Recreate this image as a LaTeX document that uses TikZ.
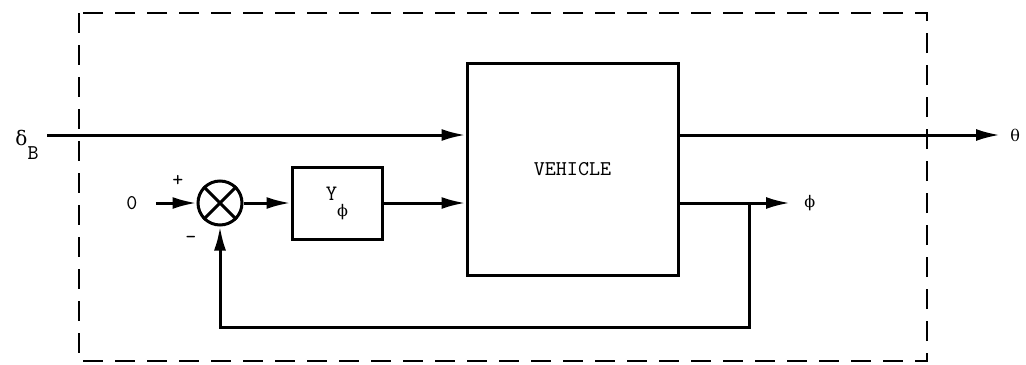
\documentclass[tikz,border=0pt]{standalone}
\usepackage{fontspec}
\newfontfamily\grk{DejaVu Serif}
\usetikzlibrary{arrows.meta,positioning,calc}
\tikzset{
  blk/.style={draw, line width=1.5pt, inner sep=0pt, font=\ttfamily\fontsize{10.5}{12}\selectfont},
  sumj/.style={draw, circle, line width=1.5pt, minimum size=22pt, inner sep=0pt},
  sig/.style={line width=1.5pt, -{Latex[length=12pt,width=6pt]}},
  frm/.style={line width=1.2pt, dash pattern=on 10pt off 6pt},
  lbl/.style={font=\ttfamily\fontsize{10.5}{12}\selectfont, inner sep=1pt},
}
\begin{document}
\begin{tikzpicture}[x=0.5pt,y=-0.5pt]
\useasboundingbox (0,0) rectangle (1026,364);
\draw[frm] (79,13) rectangle (927,361);
% blocks
\node[blk, minimum width=105.5pt, minimum height=106pt] (veh) at (572.5,169) {VEHICLE};
\node[blk, minimum width=45pt, minimum height=36pt, font=\ttfamily\fontsize{11}{12}\selectfont] (yb) at (337,203) {Y\raisebox{-8pt}{\grk\fontsize{8}{10}\selectfont ϕ}};
\node[sumj] (sj) at (220,203) {};
\draw[line width=1.5pt] (sj.north east) -- (sj.south west) (sj.north west) -- (sj.south east);
\node[lbl] (zero) at (132,203) {0};
\node[lbl] (plus) at (178,181) {+};
\node[lbl] (minus) at (191,240) {-};
\node[lbl] (dlab) at (27,145) {{\grk\fontsize{10}{12}\selectfont δ}\raisebox{-7pt}{B}};
% signals
\coordinate (din) at (47,135);
\coordinate (tout) at (1000,135);
\coordinate (pout) at (790,203);
\coordinate (br) at (749,203);
\coordinate (fb) at (749,327);
\node[lbl, font=\grk\fontsize{8}{10}\selectfont, right=4pt of tout] (tlab) {θ};
\node[lbl, font=\grk\fontsize{8}{10}\selectfont, right=6pt of pout] (plab) {ϕ};
\draw[sig] (din) -- (din -| veh.west);
\draw[sig] (tout -| veh.east) -- (tout);
\draw[sig] ([xshift=8pt]zero.east) -- (sj.west);
\draw[sig] (sj.east) -- (yb.west);
\draw[sig] (yb.east) -- (yb.east -| veh.west);
\draw[sig] (pout -| veh.east) -- (pout);
\draw[sig] (br) -- (fb) -| (sj.south);
\end{tikzpicture}
\end{document}
